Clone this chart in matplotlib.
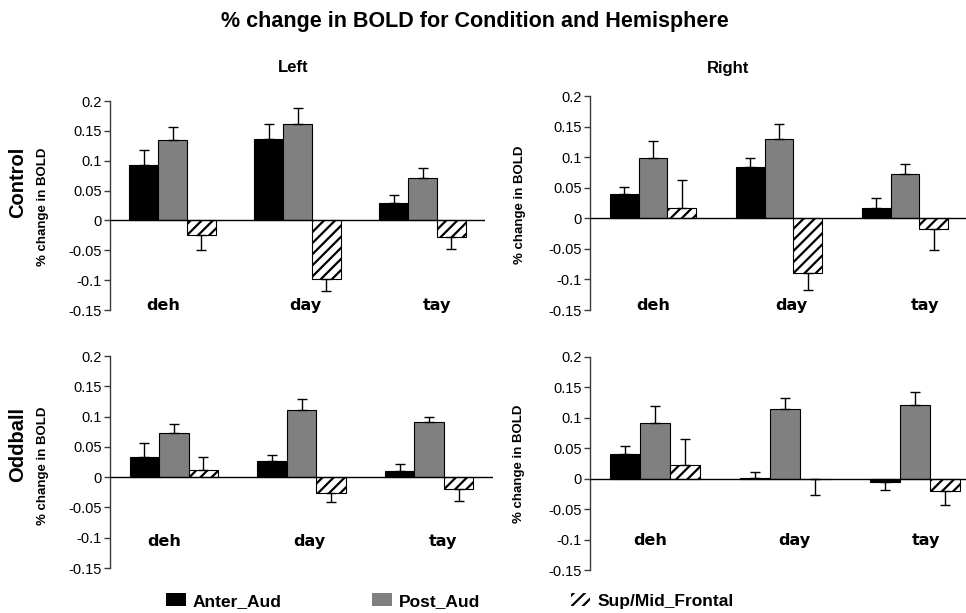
import matplotlib
matplotlib.use('Agg')
import matplotlib.pyplot as plt
from matplotlib.patches import Patch
import numpy as np

W, H = 966, 613
plt.rcParams['font.family'] = ['Liberation Sans', 'DejaVu Sans']
plt.rcParams['hatch.linewidth'] = 1.6

# ---------------- data ----------------
categories = ['deh', 'day', 'tay']
series_names = ['Anter_Aud', 'Post_Aud', 'Sup/Mid_Frontal']
title = '% change in BOLD for Condition and Hemisphere'
col_titles = ['Left', 'Right']
row_titles = ['Control', 'Oddball']
ylabel = '% change in BOLD'
yticks = [-0.15, -0.1, -0.05, 0, 0.05, 0.1, 0.15, 0.2]
ytick_labels = ['-0.15', '-0.1', '-0.05', '0', '0.05', '0.1', '0.15', '0.2']

# Control / Left
ctrl_left_anter = [0.093, 0.136, 0.029]
ctrl_left_post = [0.134, 0.161, 0.071]
ctrl_left_sup = [-0.025, -0.098, -0.028]
ctrl_left_anter_err = [0.025, 0.025, 0.014]
ctrl_left_post_err = [0.023, 0.028, 0.017]
ctrl_left_sup_err = [0.025, 0.020, 0.020]

# Control / Right
ctrl_right_anter = [0.040, 0.084, 0.017]
ctrl_right_post = [0.099, 0.129, 0.072]
ctrl_right_sup = [0.017, -0.089, -0.017]
ctrl_right_anter_err = [0.011, 0.014, 0.016]
ctrl_right_post_err = [0.027, 0.026, 0.017]
ctrl_right_sup_err = [0.046, 0.029, 0.035]

# Oddball / Left
odd_left_anter = [0.033, 0.026, 0.010]
odd_left_post = [0.073, 0.111, 0.091]
odd_left_sup = [0.011, -0.026, -0.019]
odd_left_anter_err = [0.024, 0.011, 0.011]
odd_left_post_err = [0.015, 0.018, 0.008]
odd_left_sup_err = [0.022, 0.015, 0.020]

# Oddball / Right
odd_right_anter = [0.040, 0.001, -0.005]
odd_right_post = [0.092, 0.115, 0.121]
odd_right_sup = [0.023, -0.001, -0.021]
odd_right_anter_err = [0.013, 0.010, 0.014]
odd_right_post_err = [0.027, 0.017, 0.022]
odd_right_sup_err = [0.043, 0.026, 0.023]

# ---------------- layout / style ----------------
def rect(l, r, t, b):
    return [l / W, 1 - b / H, (r - l) / W, (b - t) / H]

def fx(x):
    return x / W

def fy(y):
    return 1 - y / H

panels = [
    dict(rect=rect(110, 485, 101, 310),
         vals=[ctrl_left_anter, ctrl_left_post, ctrl_left_sup],
         errs=[ctrl_left_anter_err, ctrl_left_post_err, ctrl_left_sup_err],
         lab_y=-0.142, lab_dx=[-0.075, 0.065, 0.115]),
    dict(rect=rect(590, 968, 96, 310),
         vals=[ctrl_right_anter, ctrl_right_post, ctrl_right_sup],
         errs=[ctrl_right_anter_err, ctrl_right_post_err, ctrl_right_sup_err],
         lab_y=-0.142, lab_dx=[0.0, 0.1, 0.16]),
    dict(rect=rect(110, 493, 356, 568),
         vals=[odd_left_anter, odd_left_post, odd_left_sup],
         errs=[odd_left_anter_err, odd_left_post_err, odd_left_sup_err],
         lab_y=-0.106, lab_dx=[-0.075, 0.06, 0.11]),
    dict(rect=rect(590, 980, 357, 570),
         vals=[odd_right_anter, odd_right_post, odd_right_sup],
         errs=[odd_right_anter_err, odd_right_post_err, odd_right_sup_err],
         lab_y=-0.102, lab_dx=[-0.04, 0.07, 0.085]),
]

bar_styles = [
    dict(facecolor='black', hatch=None),
    dict(facecolor='#808080', hatch=None),
    dict(facecolor='white', hatch='///'),
]
axis_color = '#3a3a3a'
width = 0.23
offsets = [-width, 0.0, width]

fig = plt.figure(figsize=(W / 100, H / 100), dpi=100)

x = np.arange(len(categories))
for p in panels:
    ax = fig.add_axes(p['rect'])
    for i in range(3):
        vals = p['vals'][i]
        errs = p['errs'][i]
        st = bar_styles[i]
        ax.bar(x + offsets[i], vals, width, facecolor=st['facecolor'],
               edgecolor='black', linewidth=0.8, hatch=st['hatch'], zorder=2)
        lower = [e if v < 0 else 0 for v, e in zip(vals, errs)]
        upper = [e if v >= 0 else 0 for v, e in zip(vals, errs)]
        ax.errorbar(x + offsets[i], vals, yerr=[lower, upper], fmt='none',
                    ecolor='black', elinewidth=1.0, capsize=3.5, capthick=1.0,
                    zorder=3)
    ax.axhline(0, color='black', lw=1.0, zorder=4)
    ax.set_xlim(-0.5, 2.5)
    ax.set_ylim(-0.15, 0.2)
    for s in ['top', 'right', 'bottom']:
        ax.spines[s].set_visible(False)
    ax.spines['left'].set_color(axis_color)
    ax.spines['left'].set_linewidth(1.0)
    ax.set_xticks([])
    ax.set_yticks(yticks)
    ax.set_yticklabels(ytick_labels, fontsize=10.5)
    ax.tick_params(axis='y', direction='out', length=4, width=1.0,
                   color=axis_color, pad=2)
    ax.patch.set_alpha(0)
    for j, cat in enumerate(categories):
        ax.text(x[j] + p['lab_dx'][j], p['lab_y'], cat, ha='center',
                va='center', fontsize=11.5, fontweight='bold',
                family='DejaVu Sans')

# titles
fig.text(fx(475), fy(22), title, ha='center', va='center', fontsize=15.5,
         fontweight='bold')
fig.text(fx(293), fy(68), col_titles[0], ha='center', va='center',
         fontsize=12, fontweight='bold')
fig.text(fx(728), fy(68), col_titles[1], ha='center', va='center',
         fontsize=12, fontweight='bold')
fig.text(fx(18), fy(182), row_titles[0], ha='center', va='center',
         rotation=90, fontsize=14.5, fontweight='bold')
fig.text(fx(18), fy(444), row_titles[1], ha='center', va='center',
         rotation=90, fontsize=14.5, fontweight='bold')
for (lx, ly) in [(43, 207), (520, 205), (43, 466), (519, 464)]:
    fig.text(fx(lx), fy(ly), ylabel, ha='center', va='center', rotation=90,
             fontsize=9.5, fontweight='bold')

# legend
handles = [
    Patch(facecolor='black', edgecolor='black', linewidth=0),
    Patch(facecolor='#808080', edgecolor='#808080', linewidth=0),
    Patch(facecolor='white', edgecolor='black', linewidth=0, hatch='///'),
]
fig.legend(handles, series_names, loc='center left',
           bbox_to_anchor=(fx(166), fy(601)), ncol=3, frameon=False,
           prop={'weight': 'bold', 'size': 12.5}, handlelength=1.15,
           handleheight=0.7, handletextpad=0.4, columnspacing=5.2,
           borderpad=0, borderaxespad=0)

fig.savefig('out.png', dpi=100)
